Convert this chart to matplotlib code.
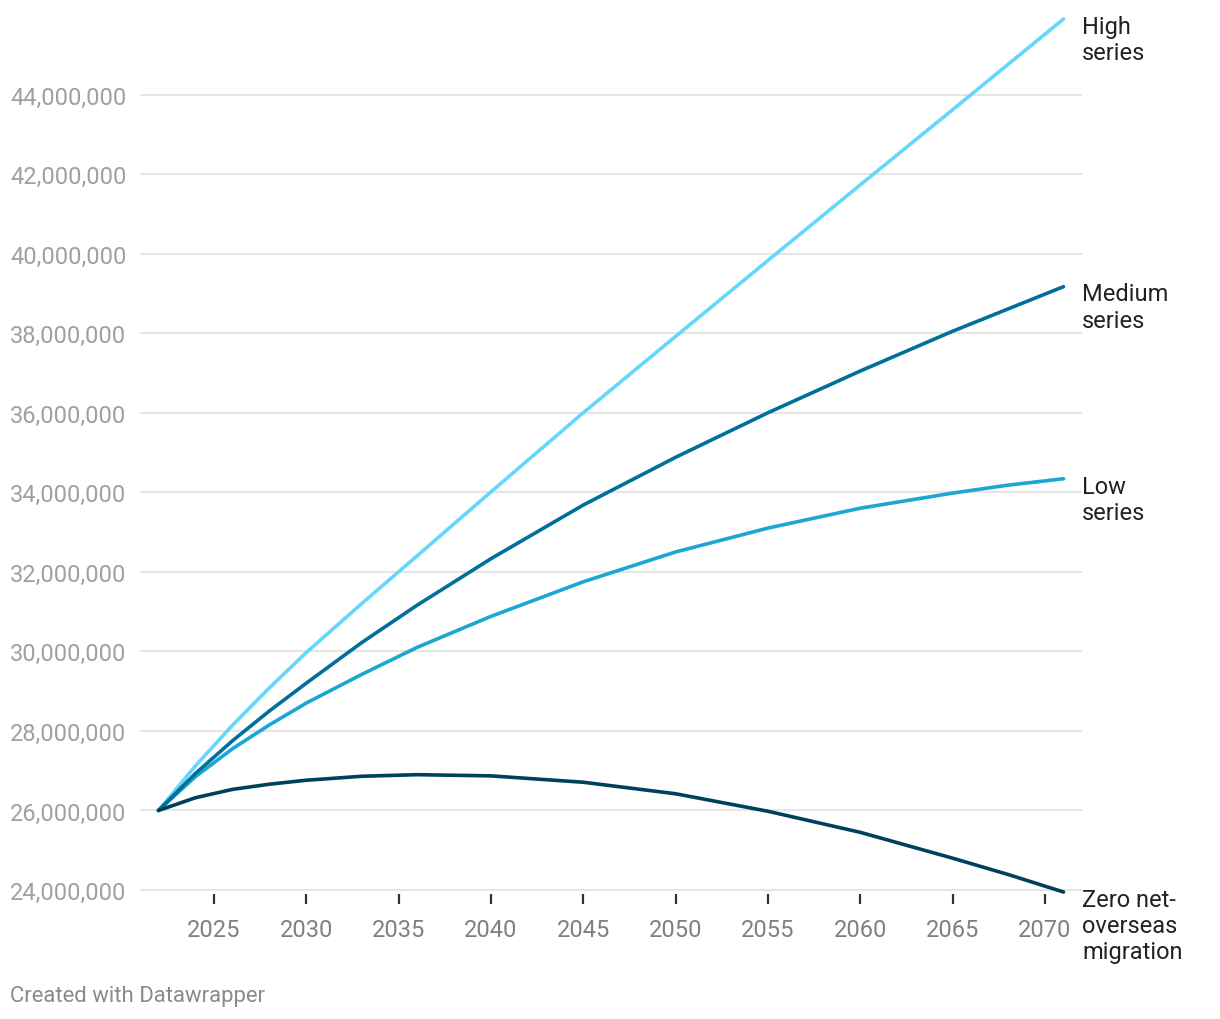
import matplotlib
matplotlib.use("Agg")
import matplotlib.pyplot as plt
from matplotlib.ticker import FuncFormatter

plt.rcParams['font.family'] = ['Roboto', 'DejaVu Sans']

# population projections, millions
years = [2022, 2024, 2026, 2028, 2030, 2033, 2036, 2040, 2045, 2050, 2055, 2060, 2065, 2068, 2071]
high = [26.0, 27.12, 28.14, 29.08, 29.97, 31.2, 32.4, 34.01, 36.0, 37.92, 39.83, 41.73, 43.62, 44.76, 45.9]
medium = [26.0, 26.93, 27.75, 28.5, 29.2, 30.22, 31.16, 32.33, 33.68, 34.88, 36.0, 37.05, 38.05, 38.61, 39.17]
low = [26.0, 26.85, 27.55, 28.15, 28.7, 29.42, 30.1, 30.88, 31.75, 32.5, 33.1, 33.6, 33.98, 34.18, 34.34]
zero_nom = [26.0, 26.32, 26.53, 26.66, 26.76, 26.86, 26.9, 26.87, 26.71, 26.42, 25.98, 25.45, 24.8, 24.39, 23.95]

series = [
    ("High\nseries", high, "#64d7fa"),
    ("Low\nseries", low, "#1ba6d3"),
    ("Medium\nseries", medium, "#00709a"),
    ("Zero net-\noverseas\nmigration", zero_nom, "#00405f"),
]

y_ticks = [24, 26, 28, 30, 32, 34, 36, 38, 40, 42, 44]
x_ticks = [2025, 2030, 2035, 2040, 2045, 2050, 2055, 2060, 2065, 2070]

W, H = 1220, 1020
fig = plt.figure(figsize=(W / 100, H / 100), dpi=100)
ax = fig.add_axes([140 / W, 1 - 895 / H, (1082 - 140) / W, (895 - 16) / H])

for name, vals, col in series:
    ax.plot(years, [v * 1e6 for v in vals], color=col, lw=2.6,
            solid_capstyle='round', solid_joinstyle='round',
            clip_on=False, zorder=3)
    ax.annotate(name, xy=(1.0, vals[-1] * 1e6),
                xycoords=('axes fraction', 'data'),
                xytext=(0, 3), textcoords='offset points',
                ha='left', va='top', fontsize=17, color='#222222',
                linespacing=1.18)

ax.set_xlim(2021, 2072)
ax.set_ylim(23.9e6, 46e6)

ax.set_yticks([v * 1e6 for v in y_ticks])
ax.yaxis.set_major_formatter(FuncFormatter(lambda v, p: f"{v:,.0f}"))
ax.tick_params(axis='y', length=0, pad=93.6, labelsize=17, labelcolor='#a0a0a0')
for lab in ax.get_yticklabels():
    lab.set_horizontalalignment('left')

ax.set_xticks(x_ticks)
ax.tick_params(axis='x', length=7, width=1.6, color='#333333', pad=10,
               labelsize=17, labelcolor='#808080')

ax.grid(axis='y', color='#e5e5e5', lw=1.4)
ax.set_axisbelow(True)
for s in ax.spines.values():
    s.set_visible(False)

fig.text(10 / W, 1 - 997 / H, "Created with Datawrapper", ha='left', va='center',
         fontsize=15.9, color='#8a8a8a')

fig.savefig("out.png", dpi=100)
